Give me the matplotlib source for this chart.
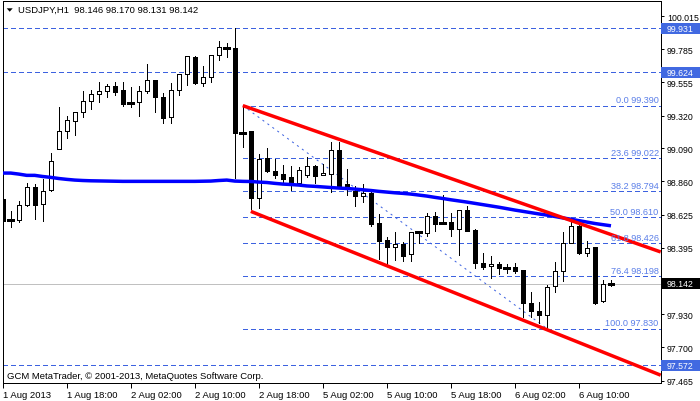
import matplotlib
matplotlib.use("Agg")
import matplotlib.pyplot as plt
from matplotlib.patches import Rectangle, Polygon
from matplotlib.transforms import blended_transform_factory

plt.rcParams['font.family'] = ['Liberation Sans', 'DejaVu Sans']
plt.rcParams['lines.scale_dashes'] = False

# ---------------- data (USDJPY H1) ----------------
opens = [98.736, 98.589, 98.591, 98.696, 98.822, 98.703, 98.801, 99.084, 99.210, 99.284,
         99.343, 99.420, 99.469, 99.494, 99.525, 99.499, 99.409, 99.413, 99.490, 99.567,
         99.448, 99.308, 99.497, 99.609, 99.730, 99.550, 99.588, 99.742, 99.793, 99.793,
         99.200, 99.210, 98.745, 99.021, 98.932, 98.909, 98.888, 98.846, 98.906, 98.965,
         98.902, 98.909, 99.077, 98.841, 98.794, 98.759, 98.778, 98.568, 98.449, 98.402,
         98.421, 98.349, 98.507, 98.496, 98.615, 98.575, 98.573, 98.528, 98.657, 98.519,
         98.288, 98.265, 98.279, 98.253, 98.258, 98.239, 98.006, 97.954, 97.926, 98.125,
         98.230, 98.426, 98.549, 98.356, 98.398, 98.020, 98.146]
highs = [98.785, 98.654, 98.720, 98.848, 98.841, 98.876, 99.058, 99.378, 99.315, 99.347,
         99.490, 99.499, 99.555, 99.541, 99.553, 99.553, 99.518, 99.525, 99.681, 99.570,
         99.476, 99.546, 99.609, 99.735, 99.735, 99.665, 99.742, 99.840, 99.826, 99.931,
         99.390, 99.214, 99.051, 99.091, 99.016, 98.974, 98.965, 98.958, 99.028, 98.974,
         98.981, 99.137, 99.137, 98.946, 98.825, 98.841, 98.783, 98.631, 98.468, 98.507,
         98.437, 98.503, 98.514, 98.638, 98.643, 98.764, 98.638, 98.657, 98.685, 98.526,
         98.358, 98.339, 98.293, 98.281, 98.286, 98.242, 98.087, 98.013, 98.134, 98.293,
         98.503, 98.584, 98.573, 98.444, 98.402, 98.167, 98.170]
lows = [98.568, 98.538, 98.573, 98.685, 98.596, 98.584, 98.794, 99.084, 99.161, 99.186,
        99.312, 99.366, 99.417, 99.452, 99.464, 99.389, 99.378, 99.319, 99.478, 99.343,
        99.266, 99.270, 99.462, 99.532, 99.541, 99.529, 99.557, 99.711, 99.732, 98.883,
        99.102, 98.666, 98.671, 98.927, 98.885, 98.853, 98.799, 98.834, 98.888, 98.850,
        98.902, 98.783, 98.825, 98.764, 98.689, 98.717, 98.549, 98.316, 98.269, 98.311,
        98.304, 98.304, 98.428, 98.479, 98.514, 98.566, 98.479, 98.344, 98.514, 98.251,
        98.246, 98.181, 98.211, 98.218, 98.218, 97.908, 97.908, 97.868, 97.830, 98.087,
        98.164, 98.426, 98.351, 98.335, 97.999, 98.013, 98.131]
closes = [98.582, 98.592, 98.696, 98.818, 98.696, 98.794, 99.000, 99.210, 99.287, 99.343,
          99.420, 99.471, 99.490, 99.525, 99.487, 99.401, 99.406, 99.490, 99.567, 99.448,
          99.305, 99.497, 99.609, 99.735, 99.548, 99.588, 99.742, 99.798, 99.795, 99.196,
          99.198, 98.743, 99.016, 98.934, 98.904, 98.876, 98.848, 98.937, 98.965, 98.899,
          98.918, 99.077, 98.829, 98.818, 98.759, 98.778, 98.561, 98.444, 98.398, 98.419,
          98.339, 98.503, 98.509, 98.615, 98.561, 98.572, 98.526, 98.657, 98.514, 98.288,
          98.262, 98.279, 98.251, 98.251, 98.234, 98.006, 97.954, 97.926, 98.118, 98.230,
          98.426, 98.549, 98.356, 98.395, 98.006, 98.143, 98.142]
ma_values = [98.918, 98.918, 98.911, 98.902, 98.902, 98.894, 98.888, 98.880, 98.874, 98.869,
             98.866, 98.864, 98.863, 98.862, 98.861, 98.860, 98.860, 98.860, 98.860, 98.860,
             98.860, 98.860, 98.860, 98.860, 98.860, 98.861, 98.862, 98.866, 98.869, 98.862,
             98.860, 98.859, 98.855, 98.852, 98.846, 98.841, 98.838, 98.834, 98.828, 98.825,
             98.821, 98.817, 98.813, 98.810, 98.806, 98.801, 98.796, 98.790, 98.785, 98.780,
             98.776, 98.771, 98.764, 98.757, 98.748, 98.740, 98.731, 98.723, 98.715, 98.706,
             98.697, 98.688, 98.679, 98.669, 98.659, 98.650, 98.641, 98.632, 98.624, 98.614,
             98.604, 98.595, 98.585, 98.575, 98.565, 98.557, 98.549]

x_tick_bars = [0, 8, 16, 24, 32, 40, 48, 56, 64, 72]
x_tick_labels = ["1 Aug 2013", "1 Aug 18:00", "2 Aug 02:00", "2 Aug 10:00", "2 Aug 18:00",
                 "5 Aug 02:00", "5 Aug 10:00", "5 Aug 18:00", "6 Aug 02:00", "6 Aug 10:00"]
y_ticks = [100.015, 99.785, 99.555, 99.320, 99.090, 98.860, 98.625, 98.395, 97.930, 97.700, 97.465]

fib_names = ["0.0", "23.6", "38.2", "50.0", "61.8", "76.4", "100.0"]
fib_levels = [99.390, 99.022, 98.794, 98.610, 98.426, 98.198, 97.830]
fib_start_bar = 30
fib_end_bar = 68

level_lines = [99.931, 99.624, 97.572]
current_price = 98.142

upper_channel = [(30, 99.390), (59.625, 98.809)]
lower_channel = [(31, 98.650), (82.2, 97.504)]

title_text = "USDJPY,H1  98.146 98.170 98.131 98.142"
copyright_text = "GCM MetaTrader, \u00a9 2001-2013, MetaQuotes Software Corp."

# ---------------- figure ----------------
W, H = 700, 402
fig = plt.figure(figsize=(W / 100, H / 100), dpi=100)
fig.patch.set_facecolor('white')
ax_l, ax_r, ax_t, ax_b = 2.7, 660.7, 2.3, 384.0
ax = fig.add_axes([ax_l / W, 1 - ax_b / H, (ax_r - ax_l) / W, (ax_b - ax_t) / H])
ax.set_facecolor('white')
x_max = 82.21
ax.set_xlim(0, x_max)
ax.set_ylim(97.449, 100.120)

px = 0.72  # one pixel in points
dash_blue = '#3d62e0'
fib_text_color = '#5b7fe8'
fs = 6.8
fs_axis = 6.3

# horizontal level lines (full width)
for lv in level_lines:
    ax.plot([0, x_max], [lv, lv], color=dash_blue, lw=px, ls=(0, (2.9, 2.2)), zorder=1,
            antialiased=False)
# current price line
ax.plot([0, x_max], [current_price, current_price], color='#c0c0c0', lw=px, zorder=1,
        antialiased=False)

# fibonacci levels
for name, lv in zip(fib_names, fib_levels):
    ax.plot([fib_start_bar, x_max], [lv, lv], color=dash_blue, lw=px, ls=(0, (2.9, 2.2)),
            zorder=1, antialiased=False)
    ax.text(0.997, lv + 0.022, f"{name} {lv:.3f}", transform=blended_transform_factory(ax.transAxes, ax.transData),
            ha='right', va='baseline', fontsize=fs - 0.2, color=fib_text_color, zorder=6)
# fibonacci trend (diagonal dotted)
ax.plot([fib_start_bar, fib_end_bar], [fib_levels[0], fib_levels[-1]], color=dash_blue, lw=px,
        ls=(0, (1.5, 2.9)), zorder=1)

# moving average
ax.plot(range(len(ma_values)), ma_values, color='#0000ff', lw=2.5, zorder=4, solid_capstyle='butt')

# candles
bw = 0.5
for i, (o, h, l, c) in enumerate(zip(opens, highs, lows, closes)):
    ax.plot([i, i], [l, h], color='black', lw=px, zorder=2, antialiased=False)
    if abs(c - o) < 0.006:
        ax.plot([i - bw / 2 - 0.06, i + bw / 2 + 0.06], [c, c], color='black', lw=px * 1.3, zorder=3,
                antialiased=False)
    else:
        lo, hi = min(o, c), max(o, c)
        face = 'white' if c > o else 'black'
        ax.add_patch(Rectangle((i - bw / 2, lo), bw, hi - lo, facecolor=face, edgecolor='black',
                               lw=px, zorder=3, antialiased=False))

# channel lines (rays)
for (x0, y0), (x1, y1) in (upper_channel, lower_channel):
    slope = (y1 - y0) / (x1 - x0)
    ax.plot([x0, x_max], [y0, y0 + slope * (x_max - x0)], color='#ff0000', lw=2.5, zorder=5,
            solid_capstyle='butt')

# axes styling
for s in ax.spines.values():
    s.set_color('black')
    s.set_linewidth(px)
ax.yaxis.tick_right()
ax.set_yticks(y_ticks)
ax.set_yticklabels([f"{v:.3f}" for v in y_ticks])
ax.tick_params(axis='y', direction='out', length=2.5, width=px, pad=2.0, labelsize=fs_axis,
               colors='black')
ax.set_xticks(x_tick_bars)
ax.set_xticklabels(x_tick_labels)
for lab in ax.get_xticklabels():
    lab.set_ha('left')
ax.tick_params(axis='x', direction='out', length=3.6, width=px, pad=1.2, labelsize=fs,
               colors='black')

# right-side price boxes
btr = blended_transform_factory(ax.transAxes, ax.transData)
box_h = 11 * 0.006998
box_w = (W - ax_r) / (ax_r - ax_l)
for lv in level_lines:
    ax.add_patch(Rectangle((1.0, lv - box_h / 2), box_w, box_h, transform=btr, facecolor='#4169e1',
                           edgecolor='none', clip_on=False, zorder=10))
    ax.text(1.0 + 5.5 / (ax_r - ax_l), lv, f"{lv:.3f}", transform=btr, ha='left', va='center',
            fontsize=fs_axis, color='white', zorder=11, clip_on=False)
ax.add_patch(Rectangle((1.0, current_price - box_h / 2), box_w, box_h, transform=btr,
                       facecolor='black', edgecolor='none', clip_on=False, zorder=10))
ax.text(1.0 + 5.5 / (ax_r - ax_l), current_price, f"{current_price:.3f}", transform=btr, ha='left',
        va='center', fontsize=fs_axis, color='white', zorder=11, clip_on=False)

# title and copyright
fig.patches.append(Polygon([[6.7 / W, 1 - 9.3 / H], [12.7 / W, 1 - 9.3 / H], [9.7 / W, 1 - 12.7 / H]],
                           closed=True, transform=fig.transFigure, facecolor='black', edgecolor='none'))
fig.text(18.3 / W, 1 - 10.7 / H, title_text, ha='left', va='center', fontsize=fs, color='black')
fig.text(7.3 / W, 1 - 376.7 / H, copyright_text, ha='left', va='center', fontsize=fs, color='black')

fig.savefig("out.png", dpi=100)
